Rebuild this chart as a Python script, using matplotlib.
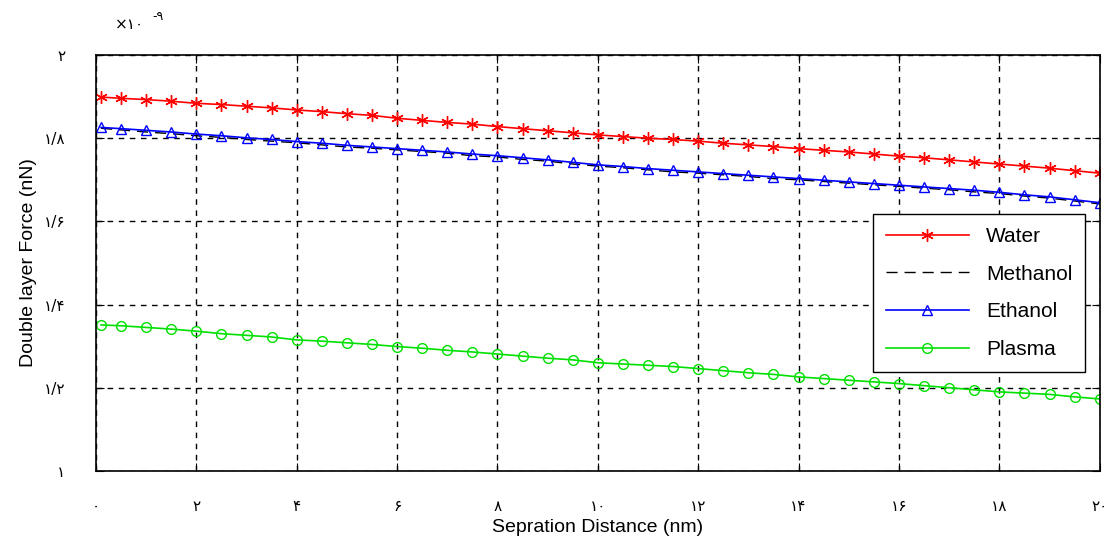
import matplotlib
matplotlib.use("Agg")
import matplotlib.pyplot as plt

plt.rcParams['font.family'] = ['Liberation Sans', 'DejaVu Sans']

# separation distance (nm)
x = [0.1, 0.5, 1.0, 1.5, 2.0, 2.5, 3.0, 3.5, 4.0, 4.5, 5.0, 5.5, 6.0, 6.5,
     7.0, 7.5, 8.0, 8.5, 9.0, 9.5, 10.0, 10.5, 11.0, 11.5, 12.0, 12.5, 13.0,
     13.5, 14.0, 14.5, 15.0, 15.5, 16.0, 16.5, 17.0, 17.5, 18.0, 18.5, 19.0,
     19.5, 20.0]

# force values, in units of 1e-9
water = [1.899, 1.896, 1.893, 1.889, 1.884, 1.881, 1.877, 1.873, 1.868, 1.864,
         1.859, 1.855, 1.848, 1.843, 1.838, 1.834, 1.828, 1.823, 1.818, 1.813,
         1.808, 1.804, 1.800, 1.797, 1.793, 1.788, 1.784, 1.780, 1.775, 1.771,
         1.767, 1.762, 1.757, 1.753, 1.748, 1.743, 1.738, 1.733, 1.728, 1.722,
         1.716]
methanol = [1.824, 1.820, 1.815, 1.811, 1.806, 1.802, 1.797, 1.793, 1.789, 1.784,
            1.779, 1.776, 1.772, 1.768, 1.764, 1.758, 1.755, 1.749, 1.745, 1.738,
            1.733, 1.729, 1.724, 1.719, 1.716, 1.712, 1.708, 1.703, 1.700, 1.696,
            1.692, 1.688, 1.684, 1.680, 1.676, 1.671, 1.667, 1.661, 1.656, 1.649,
            1.642]
ethanol = [1.826, 1.823, 1.819, 1.815, 1.810, 1.806, 1.801, 1.797, 1.792, 1.788,
           1.783, 1.779, 1.775, 1.771, 1.767, 1.762, 1.758, 1.753, 1.748, 1.742,
           1.736, 1.732, 1.727, 1.723, 1.719, 1.715, 1.711, 1.707, 1.703, 1.699,
           1.695, 1.691, 1.687, 1.683, 1.679, 1.675, 1.670, 1.664, 1.659, 1.652,
           1.645]
plasma = [1.351, 1.349, 1.345, 1.341, 1.336, 1.330, 1.326, 1.322, 1.315, 1.312,
          1.308, 1.304, 1.299, 1.295, 1.290, 1.286, 1.281, 1.276, 1.271, 1.267,
          1.260, 1.257, 1.254, 1.251, 1.246, 1.241, 1.236, 1.232, 1.226, 1.222,
          1.218, 1.214, 1.210, 1.205, 1.200, 1.195, 1.190, 1.187, 1.184, 1.178,
          1.173]

xticks = [0, 2, 4, 6, 8, 10, 12, 14, 16, 18, 20]
xlabels = ['۰', '۲', '۴', '۶', '۸', '۱۰', '۱۲', '۱۴', '۱۶', '۱۸', '۲۰']
yticks = [1.0, 1.2, 1.4, 1.6, 1.8, 2.0]
ylabels = ['۱', '۱/۲', '۱/۴', '۱/۶', '۱/۸', '۲']

fig = plt.figure(figsize=(11.09, 5.40), dpi=100)
ax = fig.add_axes([0.0866, 0.128, 0.905, 0.770])

ax.plot(x, water, color='red', lw=1.2, marker=(6, 2, 0), ms=9, mew=1.0, label='Water')
ax.plot(x, methanol, color='black', lw=1.0, ls=(0, (8, 5)), label='Methanol')
ax.plot(x, ethanol, color='blue', lw=1.2, marker='^', ms=7, mfc='none', mew=1.0, label='Ethanol')
ax.plot(x, plasma, color='#00e000', lw=1.2, marker='o', ms=7, mfc='none', mew=1.0, label='Plasma')

ax.set_xlim(0, 20)
ax.set_ylim(1.0, 2.0)
ax.set_xticks(xticks)
ax.set_xticklabels(xlabels, family=['DejaVu Sans'])
ax.set_yticks(yticks)
ax.set_yticklabels(ylabels, family=['DejaVu Sans'])
ax.tick_params(direction='in', top=True, right=True, length=6, labelsize=11)
ax.tick_params(axis='x', pad=20)
ax.tick_params(axis='y', pad=22)
ax.grid(True, color='black', ls=(0, (4, 4)), lw=1.0)
for s in ax.spines.values():
    s.set_linewidth(1.2)

ax.set_xlabel('Sepration Distance (nm)', fontsize=14, labelpad=4)
ax.set_ylabel('Double layer Force (nN)', fontsize=14, labelpad=5)

fig.text(0.104, 0.955, '×۱۰', fontsize=11, family=['DejaVu Sans'], ha='left', va='center')
fig.text(0.137, 0.970, '-۹', fontsize=9, family=['DejaVu Sans'], ha='left', va='center')

leg = ax.legend(loc='center right', bbox_to_anchor=(0.985, 0.428), borderaxespad=0,
                fontsize=15, fancybox=False, framealpha=1, edgecolor='black',
                handlelength=4.0, borderpad=0.6, labelspacing=0.9)
leg.get_frame().set_linewidth(1.0)

fig.savefig('out.png', dpi=100)
